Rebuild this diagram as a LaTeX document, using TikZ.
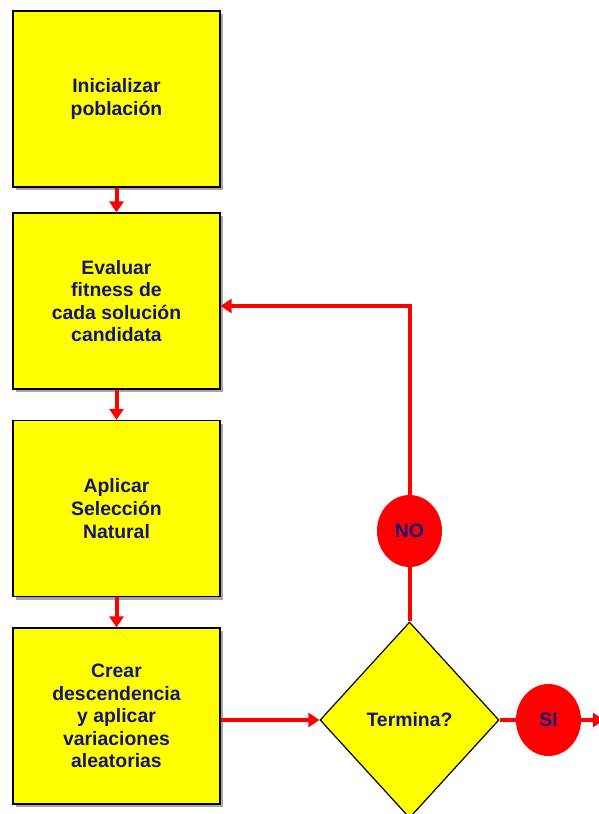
\documentclass[tikz,border=0pt]{standalone}
\usepackage{fontspec}
\setmainfont{Liberation Sans}
\usetikzlibrary{arrows.meta,shapes.geometric,shadows}
\definecolor{boxyellow}{RGB}{255,255,0}
\definecolor{textnavy}{RGB}{20,20,125}
\definecolor{flowred}{RGB}{255,0,0}
\tikzset{
  x=1pt, y=-1pt,
  label font/.style={font=\fontsize{19.4}{22.6}\selectfont\bfseries, text=textnavy},
  stepbox/.style={rectangle, draw=black, line width=1.2pt, fill=boxyellow,
    minimum width=207pt, minimum height=176pt, inner sep=0pt, align=center,
    label font,
    drop shadow={shadow xshift=3pt, shadow yshift=-3pt, fill=black!35, opacity=1}},
  decision/.style={diamond, draw=black, line width=1.2pt, fill=boxyellow,
    minimum width=179pt, minimum height=196pt, inner sep=0pt, label font},
  answer/.style={ellipse, fill=flowred, draw=none, minimum width=65pt,
    minimum height=72pt, inner sep=0pt, label font},
  flow/.style={draw=flowred, line width=4pt},
  flowarrow/.style={flow, -{Triangle[width=14pt,length=11pt]}},
}
\begin{document}
\begin{tikzpicture}
\useasboundingbox (0,0) rectangle (598,814);

% process steps
\node[stepbox] (init)  at (116.5,99)  {Inicializar\\poblaci\'on};
\node[stepbox] (eval)  at (116.5,301) {Evaluar\\fitness de\\cada soluci\'on\\candidata};
\node[stepbox] (sel)   at (116.5,508.5) {Aplicar\\Selecci\'on\\Natural};
\node[stepbox] (cross) at (116.5,716) {Crear\\descendencia\\y aplicar\\variaciones\\aleatorias};

% decision and answers
\node[decision] (term) at (409.5,720) {Termina?};
\node[answer] (no) at (409.5,531) {NO};
\node[answer] (si) at (548.5,720) {SI};
\coordinate (exit) at (604,720);

% connectors
\draw[flowarrow] (init.south) -- (eval.north);
\draw[flowarrow] (eval.south) -- (sel.north);
\draw[flowarrow] (sel.south) -- (cross.north);
\draw[flowarrow] (cross.east |- term.west) -- (term.west);
\draw[flow] (term.north) -- (no.south);
\draw[flowarrow] (no.north) |- ([yshift=-5pt]eval.east);
\draw[flow] (term.east) -- (si.west);
\draw[flowarrow] (si.east) -- (exit);
\end{tikzpicture}
\end{document}
